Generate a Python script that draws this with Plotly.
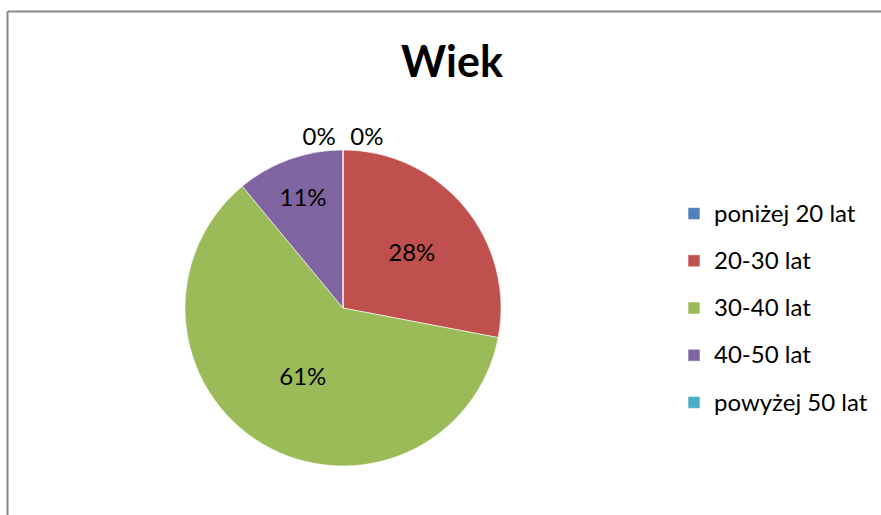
import plotly.graph_objects as go

categories = ["poniżej 20 lat", "20-30 lat", "30-40 lat", "40-50 lat", "powyżej 50 lat"]
values = [0, 28, 61, 11, 0]
colors = ["#4F81BD", "#C0504D", "#9BBB59", "#8064A2", "#4BACC6"]
title_text = "Wiek"

W, H = 881, 515
FONT = "Lato, 'Open Sans', sans-serif"

legend_labels = [
    f"<span style='font-size:24px;baseline-shift:5px'>{c}</span>" for c in categories
]

fig = go.Figure(
    go.Pie(
        labels=legend_labels,
        values=values,
        sort=False,
        direction="clockwise",
        rotation=0,
        marker=dict(colors=colors, line=dict(color="white", width=0.6)),
        texttemplate="%{percent:.0%}",
        textposition=["outside", "inside", "inside", "inside", "outside"],
        insidetextorientation="horizontal",
        textfont=dict(family=FONT, size=24, color="black"),
        outsidetextfont=dict(family=FONT, size=24, color="black"),
        hoverinfo="label+percent",
        domain=dict(x=[185 / W, 501 / W], y=[(H - 466) / H, (H - 150) / H]),
        showlegend=True,
    )
)

fig.update_layout(
    width=W,
    height=H,
    margin=dict(l=0, r=0, t=0, b=0),
    paper_bgcolor="white",
    plot_bgcolor="white",
    font=dict(family=FONT, color="black"),
    title=dict(
        text=f"<b>{title_text}</b>",
        x=452 / W,
        xanchor="center",
        y=1 - 62 / H,
        yanchor="middle",
        yref="container",
        font=dict(family=FONT, size=43, color="black"),
    ),
    legend=dict(
        x=674 / W,
        xanchor="left",
        y=1 - 308 / H,
        yanchor="middle",
        font=dict(family=FONT, size=34, color="black"),
        bgcolor="rgba(0,0,0,0)",
    ),
    shapes=[
        dict(type="line", xref="paper", yref="paper", x0=7.5 / W, x1=7.5 / W,
             y0=0, y1=1 - 11.5 / H, line=dict(color="#888888", width=2)),
        dict(type="line", xref="paper", yref="paper", x0=7.5 / W, x1=1,
             y0=1 - 11.5 / H, y1=1 - 11.5 / H, line=dict(color="#888888", width=2)),
    ],
)

fig.write_html(
    "out.html",
    config={"displayModeBar": False},
    post_script="document.body.style.margin='0';document.body.style.overflow='hidden';",
)
